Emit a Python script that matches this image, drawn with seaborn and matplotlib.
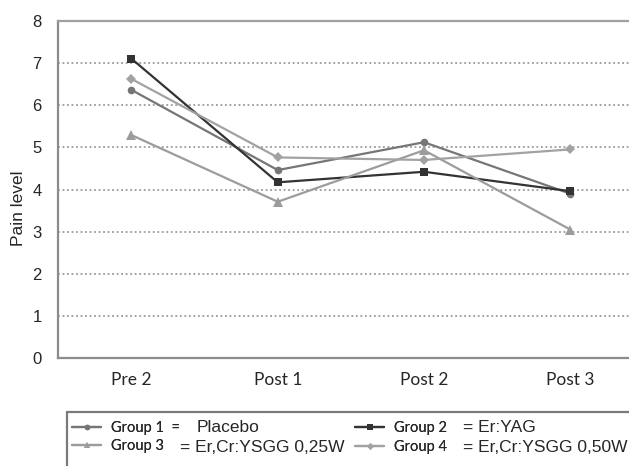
import matplotlib
matplotlib.use('Agg')
import matplotlib.pyplot as plt
from matplotlib.patches import Rectangle
from matplotlib.transforms import ScaledTranslation
import pandas as pd
import seaborn as sns

sns.set_style("white")

visits = ["Pre 2", "Post 1", "Post 2", "Post 3"]
group1 = [6.36, 4.46, 5.12, 3.90]
group2 = [7.10, 4.17, 4.42, 3.96]
group3 = [5.29, 3.71, 4.93, 3.05]
group4 = [6.62, 4.76, 4.70, 4.95]
groups = ["Group 1", "Group 2", "Group 3", "Group 4"]
treatments = ["Placebo", "= Er:YAG", "= Er,Cr:YSGG 0,25W", "= Er,Cr:YSGG 0,50W"]

rows = []
for g, vals in zip(groups, [group1, group2, group3, group4]):
    for v, y in zip(visits, vals):
        rows.append({"visit": v, "pain": y, "group": g})
df = pd.DataFrame(rows)

palette = {"Group 1": "#767676", "Group 2": "#333333", "Group 3": "#9c9c9c", "Group 4": "#a2a2a2"}
markers = {"Group 1": "o", "Group 2": "s", "Group 3": "^", "Group 4": "D"}
msizes = {"Group 1": 5.5, "Group 2": 6, "Group 3": 6.5, "Group 4": 5}

W, H = 629, 466
left, y0, y8, step = 58.3, 358.3, 20.7, 146.3
fig = plt.figure(figsize=(W / 100, H / 100), dpi=100)
ax = fig.add_axes([left / W, (H - y0) / H, (W - left) / W, (y0 - y8) / H])

sns.lineplot(data=df, x="visit", y="pain", hue="group", style="group",
             palette=palette, markers=markers, dashes=False, linewidth=1.6,
             markersize=6, markeredgewidth=0, ax=ax, legend=False, sort=False)
for line, g in zip(ax.lines, groups):
    line.set_markersize(msizes[g])

ax.set_xlim(-0.5, (W - left) / step - 0.5)
ax.set_ylim(0, 8)
ax.set_yticks(range(0, 9))
ax.set_yticklabels([str(i) for i in range(9)], fontsize=12, family="Liberation Sans")
ax.set_xticks(range(4))
ax.set_xticklabels(visits, fontsize=12.5, family="Lato")
for lab in ax.get_xticklabels():
    lab.set_transform(lab.get_transform() + ScaledTranslation(-9 / 100, 0, fig.dpi_scale_trans))
ax.set_xticks([0.5, 1.5, 2.5], minor=True)
ax.tick_params(axis="x", which="major", length=0, pad=10)
ax.tick_params(axis="x", which="minor", length=4, color="#888888", width=1.2, direction="out")
ax.tick_params(axis="y", length=4, color="#888888", width=1.2, direction="out", pad=8)
ax.set_xlabel("")
ax.set_ylabel("Pain level", fontsize=12.5, family="Liberation Sans")
ax.yaxis.set_label_coords(-0.056, 0.445)

for y in range(1, 8):
    ax.axhline(y, color="#9a9a9a", linestyle=(0, (1, 1.5)), linewidth=1.3, zorder=0)

for s in ["left", "bottom", "top"]:
    ax.spines[s].set_color("#8c8c8c")
    ax.spines[s].set_linewidth(1.6)
ax.spines["top"].set_color("#a0a0a0")
ax.spines["right"].set_visible(False)

# legend box, runs off the right and bottom edges like the original
fig.patches.append(Rectangle((67 / W, -0.05), 1.0, (H - 412) / H + 0.05,
                             transform=fig.transFigure, fill=False,
                             edgecolor="#7a7a7a", linewidth=1.6))

leg_pos = {"Group 1": (72, 428), "Group 2": (355, 428), "Group 3": (72, 446), "Group 4": (355, 447)}
text_pos = {"Group 1": (197, 427), "Group 2": (463, 427), "Group 3": (180, 447), "Group 4": (463, 447)}
for g, t in zip(groups, treatments):
    h = plt.Line2D([], [], color=palette[g], marker=markers[g], linewidth=1.6,
                   markersize=msizes[g] - 1.5, markeredgewidth=0)
    hx, hy = leg_pos[g]
    lg = fig.legend([h], [g + ("  =" if g == "Group 1" else "")], loc="center left",
                    bbox_to_anchor=(hx / W, 1 - hy / H), frameon=False,
                    borderpad=0, borderaxespad=0,
                    handlelength=2.0, handletextpad=0.7,
                    prop={"family": "Lato", "size": 10.5})
    fig.add_artist(lg)
    tx, ty = text_pos[g]
    fig.text(tx / W, 1 - ty / H, t, ha="left", va="center",
             fontsize=12.5, family="Liberation Sans")

fig.savefig("out.png", dpi=100)
